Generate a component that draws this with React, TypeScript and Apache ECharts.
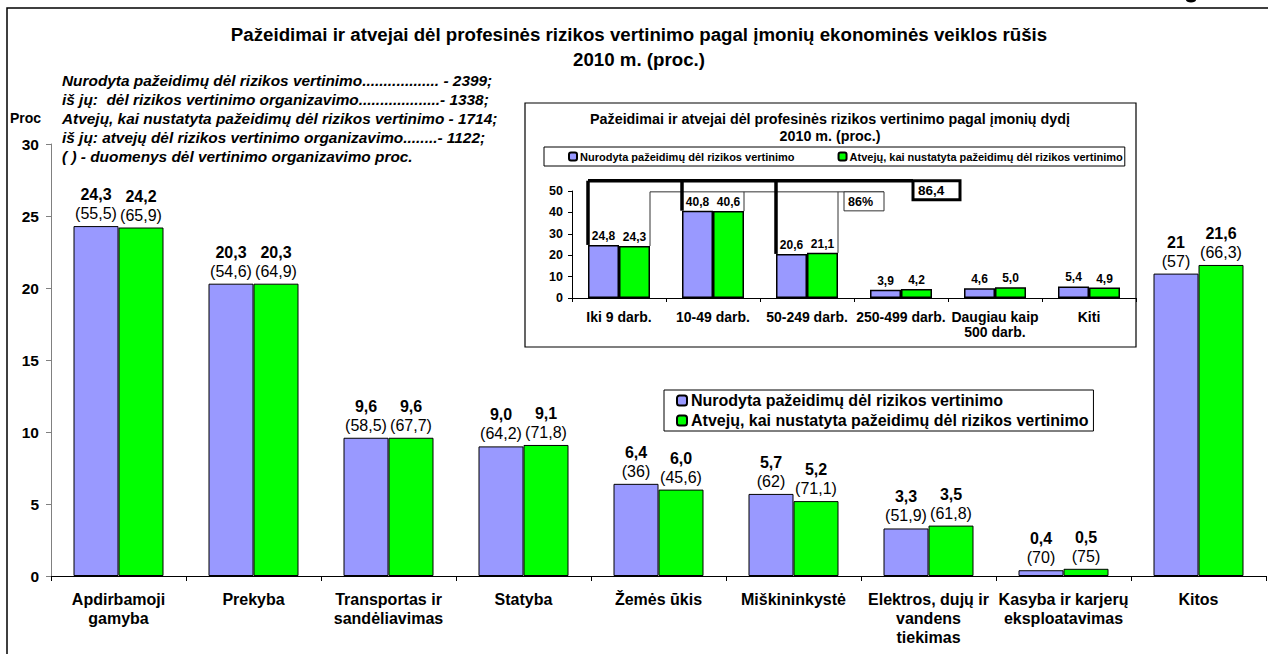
import React, { useEffect, useRef } from "react";
import * as echarts from "echarts";

const mainTitle = [
  "Pažeidimai ir atvejai dėl profesinės rizikos vertinimo pagal įmonių ekonominės veiklos rūšis",
  "2010 m. (proc.)",
];
const noteLines = [
  "Nurodyta pažeidimų dėl rizikos vertinimo.................. - 2399;",
  "iš jų:  dėl rizikos vertinimo organizavimo...................- 1338;",
  "Atvejų, kai nustatyta pažeidimų dėl rizikos vertinimo - 1714;",
  "iš jų: atvejų dėl rizikos vertinimo organizavimo........- 1122;",
  "( ) - duomenys dėl vertinimo organizavimo proc.",
];
const seriesNames = [
  "Nurodyta pažeidimų dėl rizikos vertinimo",
  "Atvejų, kai nustatyta pažeidimų dėl rizikos vertinimo",
];
const categories = [
  "Apdirbamoji\ngamyba",
  "Prekyba",
  "Transportas ir\nsandėliavimas",
  "Statyba",
  "Žemės ūkis",
  "Miškininkystė",
  "Elektros, dujų ir\nvandens\ntiekimas",
  "Kasyba ir karjerų\neksploatavimas",
  "Kitos",
];
const blueValues = [24.3, 20.3, 9.6, 9.0, 6.4, 5.7, 3.3, 0.4, 21];
const greenValues = [24.2, 20.3, 9.6, 9.1, 6.0, 5.2, 3.5, 0.5, 21.6];
const blueLabels = ["24,3", "20,3", "9,6", "9,0", "6,4", "5,7", "3,3", "0,4", "21"];
const greenLabels = ["24,2", "20,3", "9,6", "9,1", "6,0", "5,2", "3,5", "0,5", "21,6"];
const blueOrg = ["55,5", "54,6", "58,5", "64,2", "36", "62", "51,9", "70", "57"];
const greenOrg = ["65,9", "64,9", "67,7", "71,8", "45,6", "71,1", "61,8", "75", "66,3"];

const insetTitle = [
  "Pažeidimai ir atvejai dėl profesinės rizikos vertinimo pagal įmonių dydį",
  "2010 m. (proc.)",
];
const sizeCategories = [
  "Iki 9 darb.",
  "10-49 darb.",
  "50-249 darb.",
  "250-499 darb.",
  "Daugiau kaip\n500 darb.",
  "Kiti",
];
const sizeBlue = [24.8, 40.8, 20.6, 3.9, 4.6, 5.4];
const sizeGreen = [24.3, 40.6, 21.1, 4.2, 5.0, 4.9];
const bracketTotal = "86,4";
const bracketPct = "86%";

const BLUE = "#9999FF";
const GREEN = "#00FF00";
const FONT = "Liberation Sans, Arial, sans-serif";

const fmt = (v: number) => v.toFixed(1).replace(".", ",");

export default function App() {
  const ref = useRef<HTMLDivElement>(null);
  useEffect(() => {
    if (!ref.current) return;
    const chart = echarts.init(ref.current, undefined, { renderer: "svg" });

    const mainLabel = (labels: string[], org: string[]) => ({
      show: true,
      position: "top",
      distance: 3,
      formatter: (p: any) => `{v|${labels[p.dataIndex]}}\n{p|(${org[p.dataIndex]})}`,
      rich: {
        v: { fontFamily: FONT, fontWeight: "bold", fontSize: 16, lineHeight: 19, color: "#000" },
        p: { fontFamily: FONT, fontSize: 16, lineHeight: 19, color: "#000" },
      },
    });
    const insetLabel = {
      show: true,
      position: "top",
      distance: 3,
      formatter: (p: any) => fmt(p.value),
      fontFamily: FONT,
      fontWeight: "bold",
      fontSize: 12,
      color: "#000",
    };

    const option: any = {
      animation: false,
      backgroundColor: "#fff",
      textStyle: { fontFamily: FONT },
      legend: [
        {
          left: 664,
          top: 390,
          orient: "vertical",
          data: seriesNames,
          borderColor: "#000",
          borderWidth: 1,
          padding: [1, 5, 1, 12],
          itemWidth: 10,
          itemHeight: 10,
          itemGap: 1,
          selectedMode: false,
          textStyle: {
            fontFamily: FONT,
            fontWeight: "bold",
            fontSize: 16,
            lineHeight: 19,
            color: "#000",
            padding: [0, 0, 0, -1],
          },
          z: 10,
        },
        {
          left: 544,
          top: 147,
          orient: "horizontal",
          data: seriesNames,
          borderColor: "#000",
          borderWidth: 1,
          padding: [4, 2, 4, 24],
          itemWidth: 8,
          itemHeight: 8,
          itemGap: 43,
          selectedMode: false,
          textStyle: { fontFamily: FONT, fontWeight: "bold", fontSize: 11, color: "#000", padding: [0, 0, 0, -2] },
          z: 10,
        },
      ],
      grid: [
        { left: 51, top: 144, right: 2, bottom: 78 },
        { left: 572, top: 191, right: 132, bottom: 356, z: 5 },
      ],
      xAxis: [
        {
          type: "category",
          gridIndex: 0,
          data: categories,
          axisLine: { lineStyle: { color: "#000", width: 1 } },
          axisTick: { show: true, length: 5, lineStyle: { color: "#000" } },
          axisLabel: {
            interval: 0,
            margin: 14,
            fontFamily: FONT,
            fontWeight: "bold",
            fontSize: 16,
            lineHeight: 19,
            color: "#000",
          },
        },
        {
          type: "category",
          gridIndex: 1,
          data: sizeCategories,
          axisLine: { lineStyle: { color: "#000", width: 1 } },
          axisTick: { show: true, length: 4, lineStyle: { color: "#000" } },
          axisLabel: {
            interval: 0,
            margin: 11,
            fontFamily: FONT,
            fontWeight: "bold",
            fontSize: 14,
            lineHeight: 15,
            color: "#000",
          },
          z: 5,
        },
      ],
      yAxis: [
        {
          type: "value",
          gridIndex: 0,
          min: 0,
          max: 30,
          interval: 5,
          splitLine: { show: false },
          axisLine: { show: true, lineStyle: { color: "#808080" } },
          axisTick: { show: true, length: 5, lineStyle: { color: "#808080" } },
          axisLabel: { margin: 12, fontFamily: FONT, fontWeight: "bold", fontSize: 15.5, color: "#000" },
        },
        {
          type: "value",
          gridIndex: 1,
          min: 0,
          max: 50,
          interval: 10,
          splitLine: { show: false },
          axisLine: { show: true, lineStyle: { color: "#000" } },
          axisTick: { show: true, length: 4, lineStyle: { color: "#000" } },
          axisLabel: { margin: 9, fontFamily: FONT, fontWeight: "bold", fontSize: 12.5, color: "#000" },
          z: 5,
        },
      ],
      series: [
        {
          name: seriesNames[0],
          type: "bar",
          xAxisIndex: 0,
          yAxisIndex: 0,
          data: blueValues,
          barWidth: 45,
          barGap: "0%",
          itemStyle: { color: BLUE, borderColor: "#000", borderWidth: 1 },
          label: mainLabel(blueLabels, blueOrg),
        },
        {
          name: seriesNames[1],
          type: "bar",
          xAxisIndex: 0,
          yAxisIndex: 0,
          data: greenValues,
          barWidth: 45,
          barGap: "0%",
          itemStyle: { color: GREEN, borderColor: "#000", borderWidth: 1 },
          label: mainLabel(greenLabels, greenOrg),
        },
        {
          name: seriesNames[0],
          type: "bar",
          xAxisIndex: 1,
          yAxisIndex: 1,
          data: sizeBlue,
          barWidth: 31,
          barGap: "0%",
          z: 6,
          itemStyle: { color: BLUE, borderColor: "#000", borderWidth: 1.5 },
          label: insetLabel,
        },
        {
          name: seriesNames[1],
          type: "bar",
          xAxisIndex: 1,
          yAxisIndex: 1,
          data: sizeGreen,
          barWidth: 31,
          barGap: "0%",
          z: 6,
          itemStyle: { color: GREEN, borderColor: "#000", borderWidth: 1.5 },
          label: insetLabel,
        },
      ],
    };
    chart.setOption(option);

    // Positions for annotation brackets derived from the inset's scales
    const px = (cat: number, val: number) =>
      chart.convertToPixel({ xAxisIndex: 1, yAxisIndex: 1 } as any, [cat, val]) as number[];
    const bw = 31;
    const thickY = px(0, 54.8)[1];
    const thinY = px(0, 49.6)[1];
    const blueLeft = (i: number) => px(i, sizeBlue[i])[0] - bw;
    const greenRight = (i: number) => px(i, sizeGreen[i])[0] + bw;
    const blueTop = (i: number) => px(i, sizeBlue[i])[1];
    const greenTop = (i: number) => px(i, sizeGreen[i])[1];
    const boxLeft = 913;

    const thick = { stroke: "#000", lineWidth: 3.5 };
    const thin = { stroke: "#333", lineWidth: 1 };
    const lineEl = (x1: number, y1: number, x2: number, y2: number, style: any) => ({
      type: "line",
      shape: { x1, y1, x2, y2 },
      style,
      z: 20,
    });

    const graphic: any[] = [
      // outer frame
      {
        type: "rect",
        shape: { x: 7, y: 8, width: 1300, height: 700 },
        style: { fill: "none", stroke: "#000", lineWidth: 1.5 },
        z: 0,
      },
      // fragment of a mark above the frame
      {
        type: "ellipse",
        shape: { cx: 1191, cy: 0, rx: 5, ry: 2.5 },
        style: { fill: "#000" },
        z: 1,
      },
      // main titles
      ...mainTitle.map((t, i) => ({
        type: "text",
        x: 639,
        y: 34 + i * 25,
        style: {
          text: t,
          font: `bold 18.7px ${FONT}`,
          fill: "#000",
          textAlign: "center",
          textVerticalAlign: "middle",
        },
      })),
      ...noteLines.map((t, i) => ({
        type: "text",
        x: 62,
        y: 80 + i * 19,
        style: {
          text: t,
          font: `italic bold 15.4px ${FONT}`,
          fill: "#000",
          textAlign: "left",
          textVerticalAlign: "middle",
        },
      })),
      {
        type: "text",
        x: 10,
        y: 118,
        style: { text: "Proc", font: `bold 14px ${FONT}`, fill: "#000", textVerticalAlign: "middle" },
      },
      // inset frame
      {
        type: "rect",
        shape: { x: 525, y: 103, width: 611, height: 244 },
        style: { fill: "#fff", stroke: "#000", lineWidth: 1.2 },
        z: 1,
      },
      ...insetTitle.map((t, i) => ({
        type: "text",
        x: 830,
        y: 119 + i * 17,
        z: 2,
        style: {
          text: t,
          font: `bold 14.3px ${FONT}`,
          fill: "#000",
          textAlign: "center",
          textVerticalAlign: "middle",
        },
      })),
      // thin bracket
      lineEl(greenRight(0), thinY, boxLeft - 29, thinY, thin),
      lineEl(greenRight(0), thinY, greenRight(0), greenTop(0), thin),
      lineEl(greenRight(1), thinY, greenRight(1), greenTop(1), thin),
      lineEl(greenRight(2), thinY, greenRight(2), greenTop(2), thin),
      {
        type: "rect",
        shape: { x: boxLeft - 69, y: thinY, width: 40, height: 19 },
        style: { fill: "#fff", stroke: "#333", lineWidth: 1 },
        z: 20,
      },
      {
        type: "text",
        x: boxLeft - 65,
        y: thinY + 10,
        z: 21,
        style: { text: bracketPct, font: `bold 12.5px ${FONT}`, fill: "#000", textVerticalAlign: "middle" },
      },
      // thick bracket
      lineEl(blueLeft(0), thickY, boxLeft, thickY, thick),
      lineEl(blueLeft(0), thickY, blueLeft(0), blueTop(0), thick),
      lineEl(blueLeft(1), thickY, blueLeft(1), blueTop(1), thick),
      lineEl(blueLeft(2), thickY, blueLeft(2), blueTop(2), thick),
      {
        type: "rect",
        shape: { x: boxLeft, y: thickY, width: 47, height: 19 },
        style: { fill: "#fff", stroke: "#000", lineWidth: 3 },
        z: 20,
      },
      {
        type: "text",
        x: boxLeft + 5,
        y: thickY + 10,
        z: 21,
        style: { text: bracketTotal, font: `bold 13.5px ${FONT}`, fill: "#000", textVerticalAlign: "middle" },
      },
    ];
    chart.setOption({ graphic });

    return () => chart.dispose();
  }, []);

  return (
    <div
      ref={ref}
      style={{ position: "fixed", left: 0, top: 0, width: 1268, height: 654, background: "#fff" }}
    />
  );
}
